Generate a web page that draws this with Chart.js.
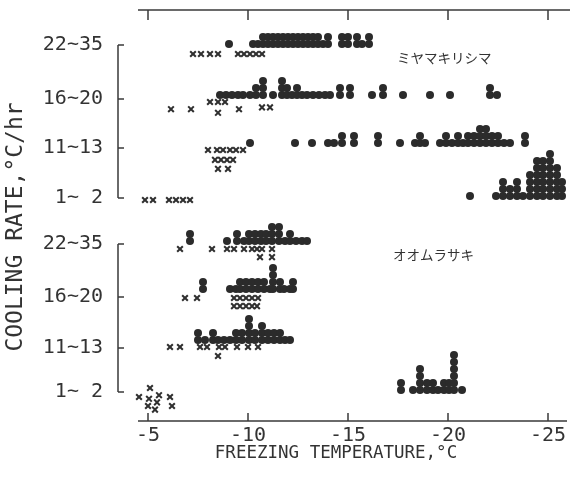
<!DOCTYPE html>
<html><head><meta charset="utf-8">
<script src="https://cdn.jsdelivr.net/npm/chart.js@4"></script>
<style>html,body{margin:0;padding:0;background:#fff}#wrap{width:575px;height:477px;position:relative}</style>
</head><body><div id="wrap"><canvas id="c"></canvas></div>
<script>
// ---------- DATA ----------
const xTickValues = [-5, -10, -15, -20, -25];
const rateLabels = ['1~ 2', '11~13', '16~20', '22~35'];   // bottom to top inside each species block
const speciesNames = ['ミヤマキリシマ', 'オオムラサキ'];
const xTitle = 'FREEZING TEMPERATURE,°C';
const yTitle = 'COOLING RATE,°C/hr';

// filled dots: [freezing temperature °C, number of stacked specimens]
const miyamaDots_1_2 = [[-21.1,1],[-22.4,1],[-22.75,3],[-23.1,2],[-23.45,3],[-23.75,1],[-24.1,4],[-24.45,6],[-24.75,6],[-25.1,7],[-25.45,5],[-25.7,3]];
const miyamaDots_11_13 = [[-10.1,1],[-12.35,1],[-13.2,1],[-14.0,1],[-14.3,1],[-14.7,2],[-15.3,2],[-16.5,2],[-17.6,1],[-18.35,1],[-18.6,2],[-18.85,1],[-19.6,1],[-19.9,2],[-20.2,1],[-20.5,2],[-20.75,1],[-21.0,2],[-21.3,2],[-21.6,3],[-21.9,3],[-22.2,2],[-22.5,2],[-22.8,1],[-23.1,1],[-23.85,2]];
const miyamaDots_16_20 = [[-8.6,1],[-8.9,1],[-9.2,1],[-9.5,1],[-9.75,1],[-10.1,1],[-10.4,2],[-10.75,3],[-11.25,1],[-11.7,3],[-11.95,2],[-12.2,1],[-12.45,2],[-12.7,1],[-12.95,1],[-13.25,1],[-13.55,1],[-13.85,1],[-14.1,1],[-14.6,2],[-15.1,2],[-16.2,1],[-16.75,2],[-17.75,1],[-19.1,1],[-20.1,1],[-22.1,2],[-22.45,1]];
const miyamaDots_22_35 = [[-9.05,1],[-10.25,1],[-10.5,1],[-10.75,2],[-11.0,2],[-11.25,2],[-11.5,2],[-11.75,2],[-12.0,2],[-12.25,2],[-12.5,2],[-12.75,2],[-13.0,2],[-13.25,2],[-13.5,2],[-13.75,1],[-14.0,2],[-14.7,2],[-15.0,2],[-15.45,2],[-15.7,1],[-16.05,2]];
const oomuraDots_1_2 = [[-17.65,2],[-18.25,1],[-18.6,4],[-18.95,2],[-19.25,2],[-19.5,1],[-19.8,2],[-20.05,2],[-20.3,6],[-20.7,1]];
const oomuraDots_11_13 = [[-7.5,2],[-7.85,1],[-8.25,2],[-8.5,1],[-8.8,1],[-9.1,1],[-9.4,2],[-9.7,2],[-10.05,4],[-10.35,2],[-10.7,3],[-11.0,2],[-11.3,2],[-11.6,2],[-11.85,1],[-12.1,1]];
const oomuraDots_16_20 = [[-7.75,2],[-9.1,1],[-9.4,1],[-9.6,2],[-9.9,2],[-10.2,2],[-10.5,2],[-10.8,2],[-11.1,1],[-11.25,4],[-11.6,2],[-11.8,1],[-12.1,1],[-12.25,2]];
const oomuraDots_22_35 = [[-7.1,2],[-8.95,1],[-9.45,2],[-9.8,1],[-10.05,2],[-10.35,2],[-10.65,2],[-10.9,2],[-11.2,3],[-11.55,3],[-11.85,1],[-12.1,2],[-12.4,1],[-12.7,1],[-12.95,1]];

// crosses: [freezing temperature °C, sub-row (0 = first line, larger = lower)]
const miyamaCross_1_2 = [[-4.85,0],[-5.25,0],[-6.05,0],[-6.4,0],[-6.75,0],[-7.1,0]];
const miyamaCross_11_13 = [[-8.0,0],[-8.45,0],[-8.75,0],[-9.1,0],[-9.4,0],[-9.75,0],[-8.35,1.1],[-8.65,1.1],[-8.95,1.1],[-9.25,1.1],[-8.5,2.1],[-9.0,2.1]];
const miyamaCross_16_20 = [[-6.15,0.8],[-7.15,0.8],[-8.1,0],[-8.5,0],[-8.85,0],[-8.5,1.2],[-9.55,0.8],[-10.7,0.6],[-11.1,0.6]];
const miyamaCross_22_35 = [[-7.25,0],[-7.65,0],[-8.1,0],[-8.5,0],[-9.5,0],[-9.8,0],[-10.1,0],[-10.4,0],[-10.7,0]];
const oomuraCross_1_2 = [[-4.55,0],[-5.1,-1],[-5.05,0.2],[-5.0,1],[-5.35,1.4],[-5.45,0.6],[-5.55,-0.2],[-6.1,0],[-6.2,1]];
const oomuraCross_11_13 = [[-6.1,0],[-6.6,0],[-7.6,0],[-7.95,0],[-8.55,0],[-8.85,0],[-8.5,1],[-9.45,0],[-10.0,0],[-10.5,0]];
const oomuraCross_16_20 = [[-6.85,0],[-7.45,0],[-9.3,0],[-9.6,0],[-9.9,0],[-10.2,0],[-10.5,0],[-9.3,0.9],[-9.6,0.9],[-9.9,0.9],[-10.2,0.9],[-10.45,0.9]];
const oomuraCross_22_35 = [[-6.6,0],[-8.2,0],[-8.95,0],[-9.3,0],[-9.8,0],[-10.2,0],[-10.45,0],[-10.7,0],[-11.2,0],[-10.6,0.9],[-11.2,0.9]];

// ---------- LAYOUT (row positions on the vertical ordinal scale) ----------
const DOT_STEP = 7, CROSS_STEP = 9;
const rows = [
  {pos: 29,  dOff: 2, cOff: -5, dots: oomuraDots_1_2,   cross: oomuraCross_1_2},
  {pos: 73,  dOff: 8, cOff: 1,  dots: oomuraDots_11_13, cross: oomuraCross_11_13},
  {pos: 124, dOff: 8, cOff: -1, dots: oomuraDots_16_20, cross: oomuraCross_16_20},
  {pos: 177, dOff: 3, cOff: -5, dots: oomuraDots_22_35, cross: oomuraCross_22_35},
  {pos: 223, dOff: 2, cOff: -2, dots: miyamaDots_1_2,   cross: miyamaCross_1_2},
  {pos: 273, dOff: 5, cOff: -2, dots: miyamaDots_11_13, cross: miyamaCross_11_13},
  {pos: 322, dOff: 4, cOff: -3, dots: miyamaDots_16_20, cross: miyamaCross_16_20},
  {pos: 376, dOff: 1, cOff: -9, dots: miyamaDots_22_35, cross: miyamaCross_22_35}
];
const tickPos = rows.map(r => r.pos);
const tickText = rows.map((r, i) => rateLabels[i % 4]);

const dotPts = [], crossPts = [];
rows.forEach(r => {
  r.dots.forEach(([t, n]) => { for (let k = 0; k < n; k++) dotPts.push({x: t, y: r.pos + r.dOff + k * DOT_STEP}); });
  r.cross.forEach(([t, lv]) => crossPts.push({x: t, y: r.pos + r.cOff - lv * CROSS_STEP}));
});

const INK = '#2b2b2b';
const MONO = '"DejaVu Sans Mono", monospace';

const decor = {
  id: 'decor',
  afterDraw(chart) {
    const {ctx, chartArea: a, scales: {x, y}} = chart;
    ctx.save();
    ctx.strokeStyle = '#3a3a3a';
    ctx.lineWidth = 1.5;
    ctx.beginPath();
    // bottom axis with inward ticks
    ctx.moveTo(a.left, a.bottom); ctx.lineTo(a.right, a.bottom);
    xTickValues.forEach(v => { const p = x.getPixelForValue(v); ctx.moveTo(p, a.bottom); ctx.lineTo(p, a.bottom - 8); });
    // top axis with inward ticks
    ctx.moveTo(a.left, a.top); ctx.lineTo(a.right + 3, a.top);
    xTickValues.forEach(v => { const p = x.getPixelForValue(v); ctx.moveTo(p, a.top); ctx.lineTo(p, a.top + 10); });
    // brackets for the two species blocks
    const bx = a.left - 20;
    [rows.slice(0, 4), rows.slice(4)].forEach(block => {
      const yTop = y.getPixelForValue(block[3].pos), yBot = y.getPixelForValue(block[0].pos);
      ctx.moveTo(bx, yTop); ctx.lineTo(bx, yBot);
      block.forEach(r => { const p = y.getPixelForValue(r.pos); ctx.moveTo(bx, p); ctx.lineTo(bx + 6, p); });
    });
    ctx.stroke();

    ctx.fillStyle = '#333';
    // axis titles
    ctx.font = '17.5px ' + MONO;
    ctx.textAlign = 'center'; ctx.textBaseline = 'middle';
    ctx.fillText(xTitle, 336, 453);
    ctx.save();
    ctx.font = '23px ' + MONO;
    ctx.translate(16, 227);
    ctx.rotate(-Math.PI / 2);
    ctx.fillText(yTitle, 0, 0);
    ctx.restore();
    // species names
    ctx.font = '13.5px "Noto Sans CJK JP"';
    ctx.textAlign = 'left';
    ctx.fillText(speciesNames[0], x.getPixelForValue(-17.45), y.getPixelForValue(363));
    ctx.fillText(speciesNames[1], x.getPixelForValue(-17.25), y.getPixelForValue(166));
    ctx.restore();
  }
};

new Chart(document.getElementById('c'), {
  type: 'scatter',
  data: {
    datasets: [
      {data: dotPts, pointStyle: 'circle', pointRadius: 4, pointHoverRadius: 4, backgroundColor: INK, borderWidth: 0, clip: false},
      {data: crossPts, pointStyle: 'crossRot', pointRadius: 4, pointHoverRadius: 4, borderColor: '#2f2f2f', borderWidth: 2, clip: false}
    ]
  },
  options: {
    responsive: true, maintainAspectRatio: false, animation: false,
    layout: {padding: {top: 10, right: 8, left: 0, bottom: 0}},
    plugins: {legend: {display: false}, tooltip: {enabled: false}},
    scales: {
      x: {
        type: 'linear', reverse: true, min: -25.95, max: -4.5,
        afterBuildTicks: s => { s.ticks = xTickValues.map(v => ({value: v})); },
        afterFit: s => { s.height = 56; s.paddingLeft = 0; s.paddingRight = 0; },
        grid: {display: false, drawTicks: false}, border: {display: false},
        ticks: {font: {family: MONO, size: 20}, color: '#333', padding: 3, maxRotation: 0, autoSkip: false}
      },
      y: {
        type: 'linear', min: 0, max: 411,
        afterBuildTicks: s => { s.ticks = tickPos.map(v => ({value: v})); },
        afterFit: s => { s.width = 138; s.paddingTop = 0; s.paddingBottom = 0; },
        grid: {display: false, drawTicks: false}, border: {display: false},
        ticks: {font: {family: MONO, size: 20}, color: '#333', padding: 35, autoSkip: false,
                callback: (v, i) => tickText[i]}
      }
    }
  },
  plugins: [decor]
});
</script></body></html>
